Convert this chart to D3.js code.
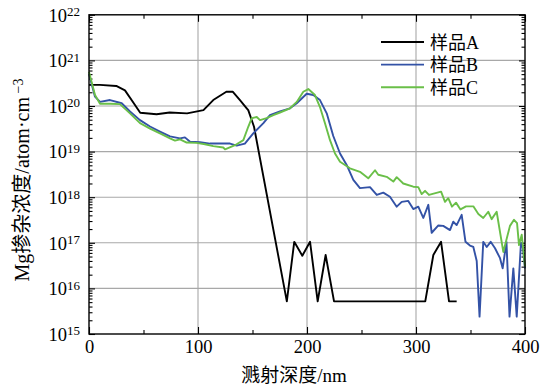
<!DOCTYPE html>
<html><head><meta charset="utf-8">
<script src="https://cdn.jsdelivr.net/npm/d3@7"></script>
<style>
body{margin:0;background:#fff;}
text{font-family:'Liberation Serif','Noto Sans CJK SC',serif;fill:#000;}
</style></head>
<body><svg id="c" width="551" height="389"></svg>
<script>
// ---- data ----
const seriesNames = ["样品A","样品B","样品C"];
const xTicks = [0,100,200,300,400];
const yTicks = [1e15,1e16,1e17,1e18,1e19,1e20,1e21,1e22];

const depthA = [0,10,25,33,40,47,62,74,90,105,114,126,132,138.5,144.7,146.1,151.4,181.5,188.3,195.7,202.8,209.8,217.1,224.8,308.5,315.9,323,330.3,337.3];
const concA  = [2.9e20,2.9e20,2.75e20,2.2e20,1.25e20,7.1e19,6.6e19,7.2e19,6.9e19,8.1e19,1.35e20,2.05e20,2.05e20,1.35e20,8.9e19,8.1e19,3.5e19,5.2e15,1.05e17,5.2e16,1.05e17,5.2e15,5.4e16,5.2e15,5.2e15,5.4e16,1.05e17,5.2e15,5.2e15];

const depthB = [0,5.5,10.1,19.3,30,37.6,46.8,56,65.1,74.3,83.5,88,92.7,101.8,111,120,129.4,135.5,143,150.7,160,166,175.2,184.4,190.6,199.7,205.8,211.9,218.1,224.1,230.3,236.4,242.5,248.6,257.8,264,270,276.1,282.3,286.9,292.9,297.5,302.1,306.7,311.3,314.4,320.5,325,331.2,334.2,337.3,341.9,345.4,349.5,352.6,355.7,358.3,361.7,364.9,368.5,372.5,377.1,379.5,383,385.8,389.3,392.4,396.3,398,400];
const concB  = [5.0e20,1.6e20,1.23e20,1.35e20,1.15e20,7.6e19,4.9e19,3.55e19,2.75e19,2.15e19,1.95e19,2.05e19,1.65e19,1.6e19,1.5e19,1.5e19,1.5e19,1.35e19,1.5e19,2.5e19,4.2e19,6.3e19,7.6e19,8.9e19,1.15e20,1.86e20,1.74e20,1.35e20,6.9e19,2.2e19,9.1e18,5.1e18,2.4e18,1.58e18,1.66e18,1.12e18,1.26e18,1.02e18,6.2e17,7.9e17,8.3e17,5.5e17,6.2e17,3.5e17,6.8e17,1.66e17,2.4e17,2.35e17,1.9e17,2.9e17,2.45e17,4.1e17,1.05e17,8.7e16,8.1e16,4.0e16,2.4e15,1.05e17,8.1e16,1.05e17,7.6e16,4.6e16,2.75e16,1.05e17,2.4e15,2.75e16,2.4e15,1.0e17,8.0e16,2.75e16];

const depthC = [0,5.5,10.1,19.3,28.4,37.6,46.8,56,65.1,74.3,78.9,83.5,89.6,98.7,106.4,114,123.2,124.8,134,141.6,146.1,149.3,153.9,156.9,163,169.1,175.2,184.4,190.6,196.6,201.2,207.3,211.9,216.5,221.1,225.7,230.3,239.4,248.6,256.2,262.4,265.4,273.1,279.2,282.3,288.3,297.5,302.1,305.2,308.3,311.9,323,326.6,329.6,333,336.7,340.8,345.9,352.6,357.2,361.7,366.3,369.4,374,380.1,386.2,389.9,392.7,394.5,397,400];
const concC  = [5.6e20,1.74e20,1.12e20,1.12e20,1.1e20,6.9e19,4.2e19,3.2e19,2.5e19,1.95e19,1.74e19,1.86e19,1.58e19,1.55e19,1.45e19,1.32e19,1.23e19,1.12e19,1.38e19,1.78e19,3.5e19,5.4e19,5.75e19,4.9e19,5.4e19,6.3e19,7.2e19,8.9e19,1.23e20,2.05e20,2.35e20,1.74e20,9.5e19,4.2e19,1.78e19,9.1e18,6.0e18,4.3e18,3.6e18,2.6e18,3.9e18,3.1e18,2.8e18,2.2e18,2.75e18,2.0e18,1.7e18,1.66e18,1.17e18,1.38e18,1.12e18,1.32e18,7.9e17,9.5e17,6.2e17,7.6e17,5.4e17,6.3e17,6.3e17,4.3e17,3.5e17,4.8e17,3.3e17,4.8e17,6.3e16,2.35e17,3.2e17,2.7e17,8.9e16,1.5e17,3.0e16];

// ---- layout ----
const L=89,R=525,T=14.8,B=334;
const svg=d3.select("#c");
const x=d3.scaleLinear().domain([0,400]).range([L,R]);
const y=d3.scaleLog().domain([1e15,1e22]).range([B,T]);

// grid
const g=svg.append("g");
g.selectAll(".gy").data(yTicks.slice(1,-1)).enter().append("line")
 .attr("x1",L).attr("x2",R).attr("y1",d=>y(d)).attr("y2",d=>y(d))
 .attr("stroke","#a8a8a8").attr("stroke-width",1.1);
g.selectAll(".gx").data(xTicks.slice(1,-1)).enter().append("line")
 .attr("y1",T).attr("y2",B).attr("x1",d=>x(d)).attr("x2",d=>x(d))
 .attr("stroke","#a8a8a8").attr("stroke-width",1.1);

// minor values
const yMinor=[];
for(let e=15;e<22;e++) for(let m=2;m<=9;m++) yMinor.push(m*Math.pow(10,e));
const xMinor=[50,150,250,350];

function styleAxis(sel){sel.select(".domain").remove();sel.selectAll("line").attr("stroke","#000").attr("stroke-width",1.1);}

// bottom
const bx=svg.append("g").attr("transform",`translate(0,${B})`)
 .call(d3.axisBottom(x).tickValues(xTicks).tickSizeInner(-7).tickSizeOuter(0).tickPadding(6).tickFormat(d3.format("d")));
styleAxis(bx); bx.selectAll("text").attr("font-size",18.5).attr("font-family","'Liberation Serif',serif");
const bxm=svg.append("g").attr("transform",`translate(0,${B})`)
 .call(d3.axisBottom(x).tickValues(xMinor).tickSizeInner(-4).tickSizeOuter(0).tickFormat(""));
styleAxis(bxm);
// top
const tx=svg.append("g").attr("transform",`translate(0,${T})`)
 .call(d3.axisTop(x).tickValues(xTicks).tickSizeInner(-7).tickSizeOuter(0).tickFormat(""));
styleAxis(tx);
const txm=svg.append("g").attr("transform",`translate(0,${T})`)
 .call(d3.axisTop(x).tickValues(xMinor).tickSizeInner(-4).tickSizeOuter(0).tickFormat(""));
styleAxis(txm);
// left
const ly=svg.append("g").attr("transform",`translate(${L},0)`)
 .call(d3.axisLeft(y).tickValues(yTicks).tickSizeInner(-6).tickSizeOuter(0).tickPadding(9).tickFormat(""));
styleAxis(ly);
ly.selectAll(".tick text").each(function(d){
  const t=d3.select(this).attr("font-size",18.5).attr("font-family","'Liberation Serif',serif").attr("dy","0.34em");
  t.append("tspan").text("10");
  t.append("tspan").attr("dy","-0.42em").attr("font-size",13).text(Math.round(Math.log10(d)));
});
const lym=svg.append("g").attr("transform",`translate(${L},0)`)
 .call(d3.axisLeft(y).tickValues(yMinor).tickSizeInner(-3.5).tickSizeOuter(0).tickFormat(""));
styleAxis(lym);
// right
const ry=svg.append("g").attr("transform",`translate(${R},0)`)
 .call(d3.axisRight(y).tickValues(yTicks).tickSizeInner(-6).tickSizeOuter(0).tickFormat(""));
styleAxis(ry);
const rym=svg.append("g").attr("transform",`translate(${R},0)`)
 .call(d3.axisRight(y).tickValues(yMinor).tickSizeInner(-3.5).tickSizeOuter(0).tickFormat(""));
styleAxis(rym);

// series
const colors=["#000000","#3352a6","#6abf48"];
const sets=[[depthA,concA],[depthB,concB],[depthC,concC]];
const line=d3.line().x(d=>x(d[0])).y(d=>y(d[1]));
sets.forEach((s,i)=>{
  svg.append("path").datum(d3.zip(s[0],s[1])).attr("d",line)
   .attr("fill","none").attr("stroke",colors[i]).attr("stroke-width",1.9).attr("stroke-linejoin","round");
});

// frame
svg.append("rect").attr("x",L).attr("y",T).attr("width",R-L).attr("height",B-T)
 .attr("fill","none").attr("stroke","#000").attr("stroke-width",1.4);

// legend
const lg=svg.append("g");
seriesNames.forEach((n,i)=>{
  const yy=42+i*22.6;
  lg.append("line").attr("x1",381).attr("x2",424).attr("y1",yy).attr("y2",yy).attr("stroke",colors[i]).attr("stroke-width",1.9);
  lg.append("text").attr("x",430).attr("y",yy+6.5).attr("font-size",18).text(n);
});

// axis titles
svg.append("text").attr("x",294).attr("y",382).attr("text-anchor","middle").attr("font-size",19).text("溅射深度/nm");
const yt=svg.append("text").attr("transform","translate(29,180) rotate(-90)").attr("text-anchor","middle").attr("font-size",20);
yt.append("tspan").text("Mg掺杂浓度/atom·cm");
yt.append("tspan").attr("dx","0.25em").attr("dy","-0.42em").attr("font-size",14).text("−3");
</script></body></html>
